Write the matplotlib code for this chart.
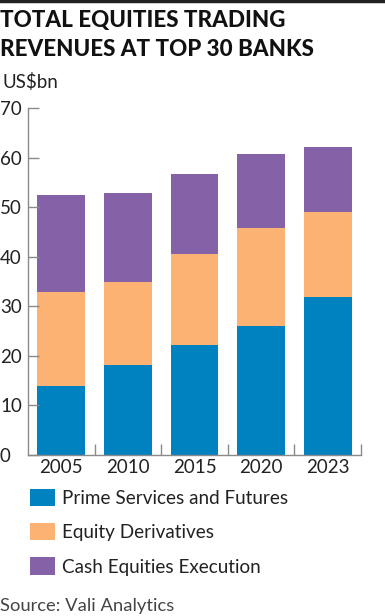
import matplotlib
matplotlib.use("Agg")
import matplotlib.pyplot as plt
from matplotlib.lines import Line2D
import numpy as np

years = ["2005", "2010", "2015", "2020", "2023"]
prime = [14.0, 18.2, 22.2, 26.0, 32.0]
derivs = [18.9, 16.7, 18.4, 19.9, 17.1]
cash = [19.6, 17.9, 16.1, 14.8, 13.1]
series_names = ["Prime Services and Futures", "Equity Derivatives", "Cash Equities Execution"]
colors = ["#0082C1", "#FBB273", "#8561A8"]
yticks = [0, 10, 20, 30, 40, 50, 60, 70]

plt.rcParams['font.family'] = ['Lato', 'DejaVu Sans']

W, H = 385, 616
fig = plt.figure(figsize=(W / 100, H / 100), dpi=100)

# top rule
fig.add_artist(Line2D([0, 1], [1 - 1 / H, 1 - 1 / H], color="#222222", lw=2.5))

fig.text(0, 1 - 27.5 / H, "TOTAL EQUITIES TRADING", ha="left", va="baseline",
         fontsize=16.1, fontweight="black", color="#111111")
fig.text(0, 1 - 55.5 / H, "REVENUES AT TOP 30 BANKS", ha="left", va="baseline",
         fontsize=16.1, fontweight="black", color="#111111")
fig.text(2 / W, 1 - 87.5 / H, "US$bn", ha="left", va="baseline", fontsize=13.5, color="#222222")

ax = fig.add_axes([28 / W, 1 - 455 / H, (361 - 28) / W, (455 - 108.3) / H])
x = np.arange(len(years))
bottom = np.zeros(len(years))
handles = []
for vals, c, name in zip([prime, derivs, cash], colors, series_names):
    b = ax.bar(x, vals, width=0.72, bottom=bottom, color=c, label=name, linewidth=0)
    handles.append(b)
    bottom += np.array(vals)

ax.set_xlim(-0.5, len(years) - 0.5)
ax.set_ylim(0, 70)
ax.set_yticks(yticks)
ax.set_yticklabels([str(v) for v in yticks])
ax.set_xticks(x)
ax.set_xticklabels(years)
ax.set_xticks(np.arange(len(years)) + 0.5, minor=True)
for s in ["top", "right"]:
    ax.spines[s].set_visible(False)
for s in ["left", "bottom"]:
    ax.spines[s].set_color("#8a8a8a")
    ax.spines[s].set_linewidth(1.0)
ax.tick_params(axis="y", direction="in", length=8, color="#8a8a8a", width=1,
               labelsize=13.5, pad=0, labelcolor="#222222")
ax.tick_params(axis="x", which="major", length=0, labelsize=13.5, pad=3, labelcolor="#222222")
ax.tick_params(axis="x", which="minor", direction="in", length=8, color="#8a8a8a", width=1)
for lab in ax.get_yticklabels():
    lab.set_horizontalalignment("left")
    lab.set_x(-28 / (361 - 28))

leg = fig.legend(handles=handles, labels=series_names, loc="upper left",
                 bbox_to_anchor=(30 / W, 1 - 488.5 / H), frameon=False,
                 fontsize=13.6, handlelength=1.32, handleheight=1.05,
                 handletextpad=0.4, labelspacing=0.86, borderpad=0, borderaxespad=0)
for t in leg.get_texts():
    t.set_color("#222222")

fig.text(0, 1 - 611 / H, "Source: Vali Analytics", ha="left", va="baseline",
         fontsize=13.2, color="#444444")

fig.savefig("out.png", dpi=100)
